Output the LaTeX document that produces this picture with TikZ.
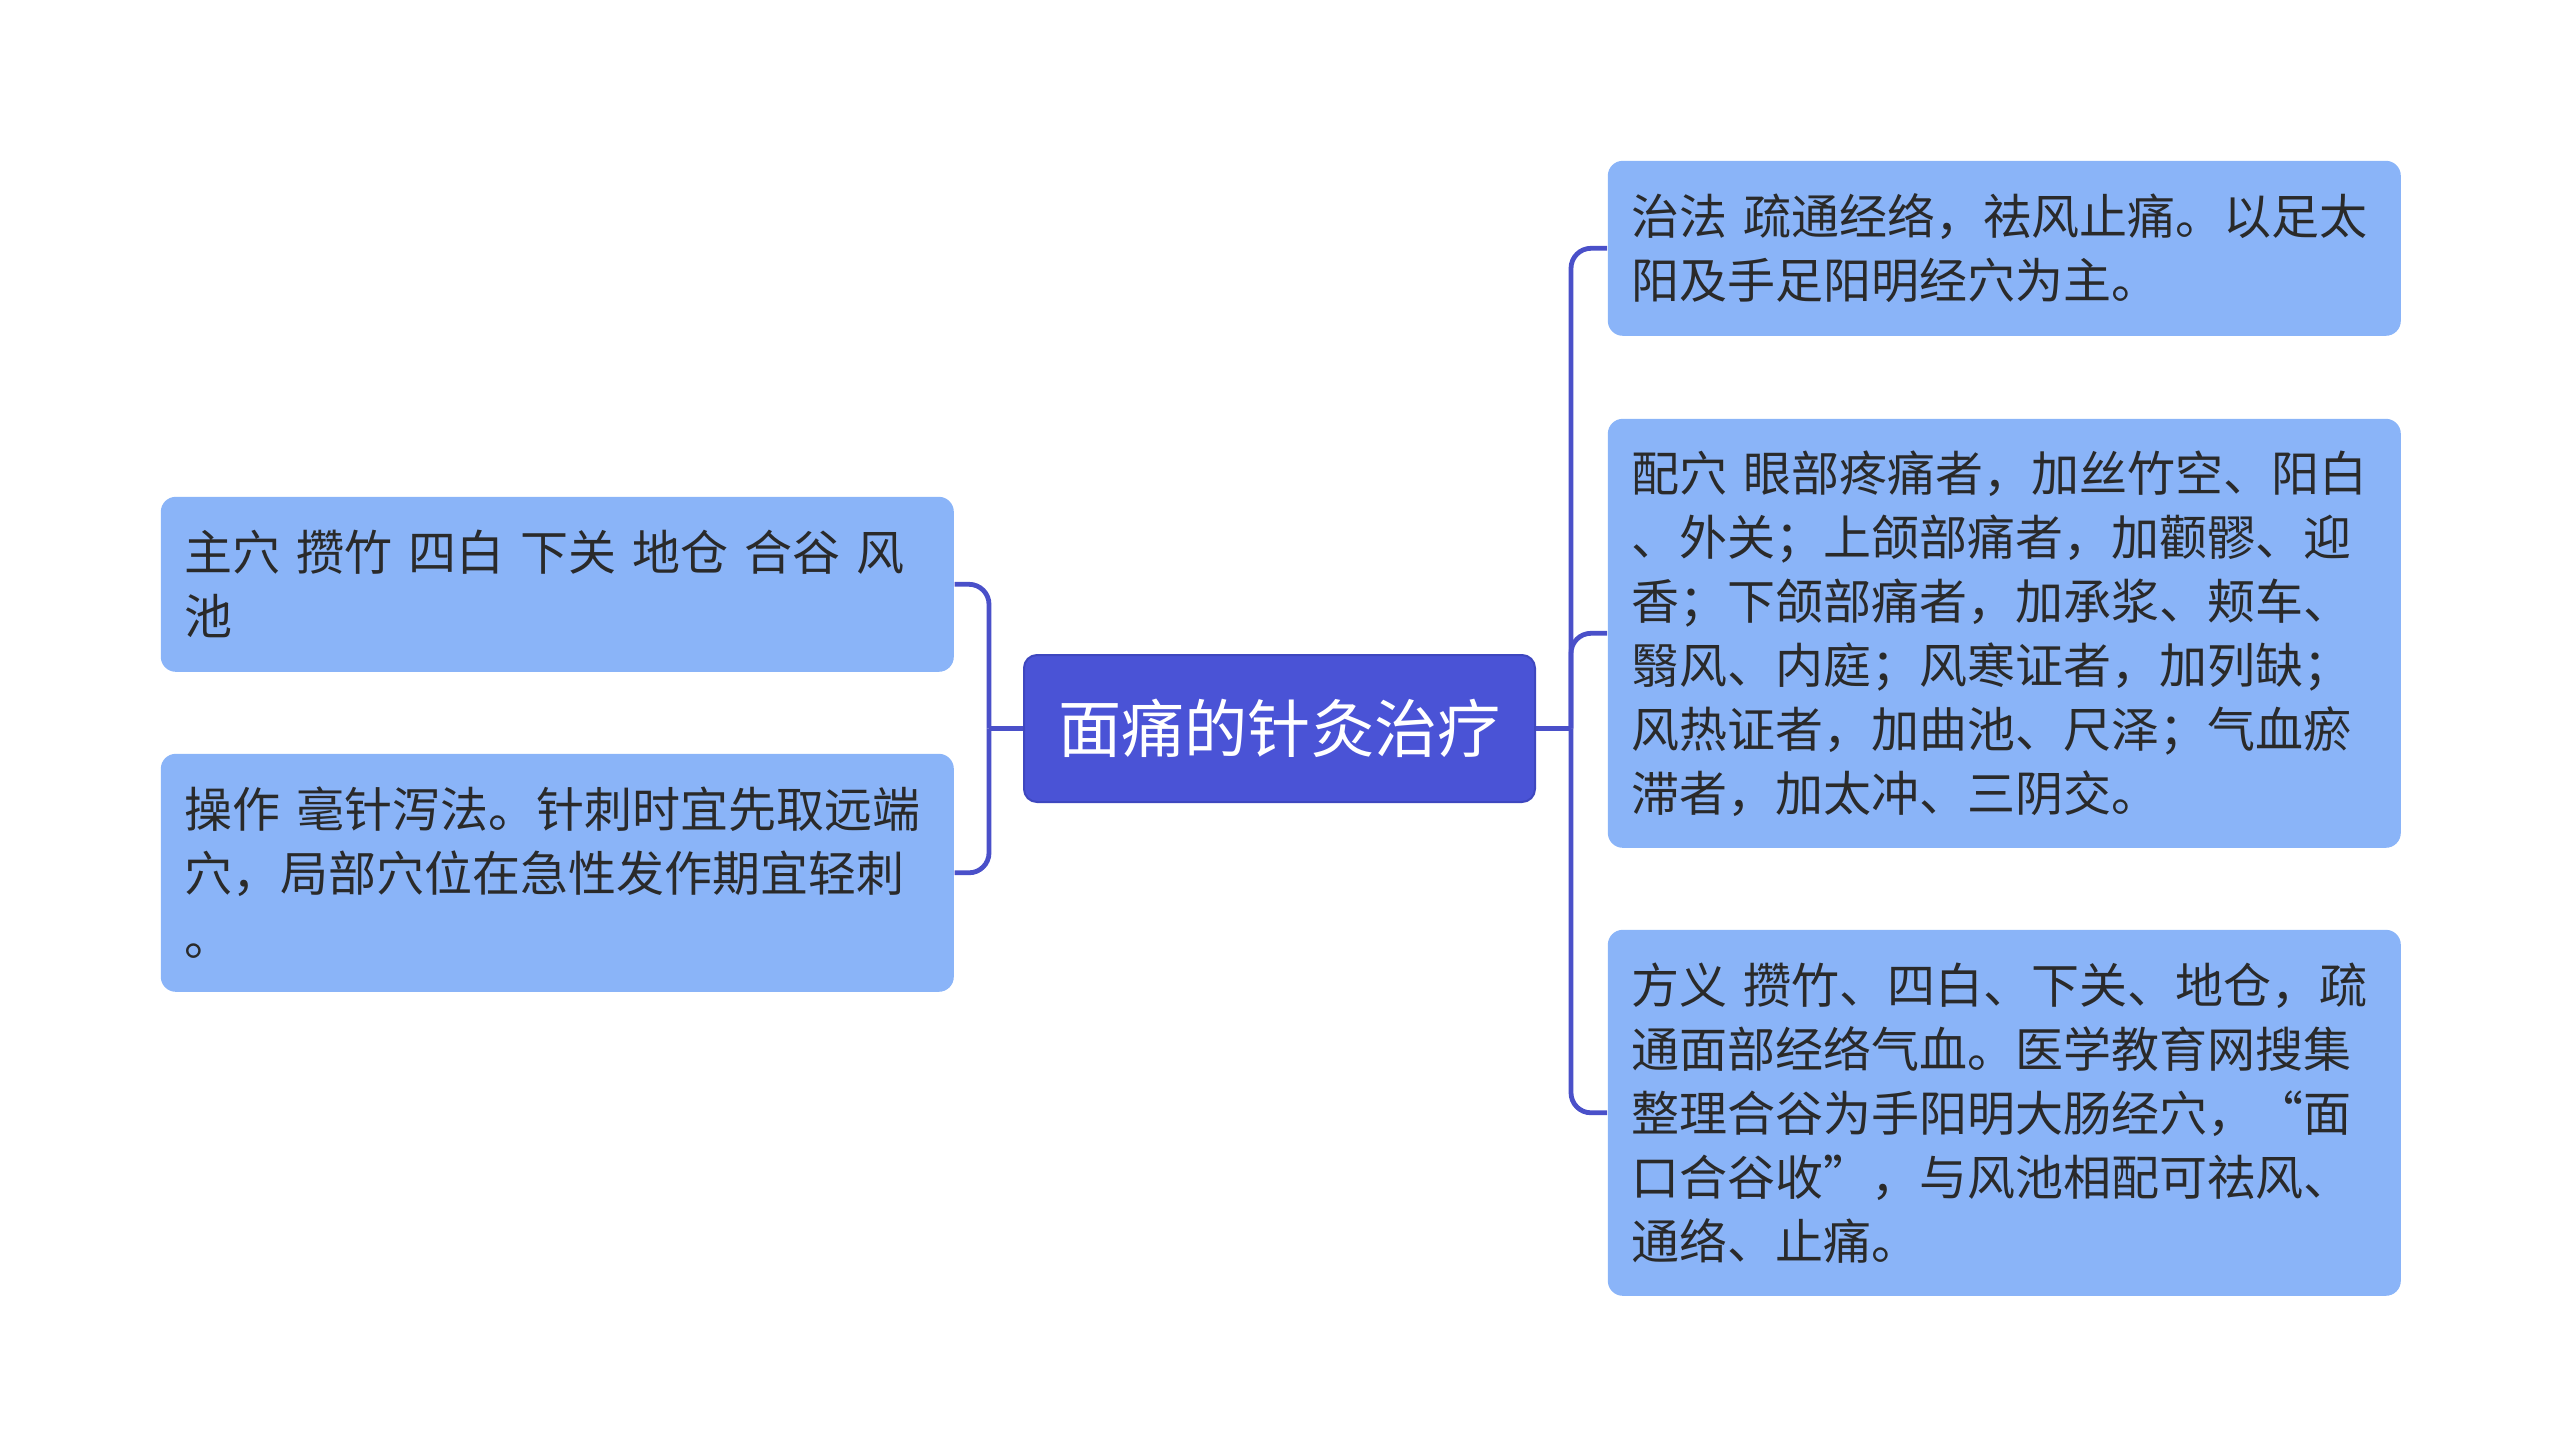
\documentclass[tikz,border=0pt]{standalone}
\usepackage{fontspec}
\setmainfont{Noto Sans CJK SC}
\definecolor{leafblue}{HTML}{8AB4F8}
\definecolor{rootblue}{HTML}{4A53D6}
\definecolor{rootborder}{HTML}{3E47BF}
\definecolor{linec}{HTML}{4A50C9}
\definecolor{textgray}{HTML}{2A2A2A}
\newcommand{\myleaffont}{\fontsize{12}{16}\selectfont\spaceskip=0.17em\relax}
\begin{document}
\begin{tikzpicture}[x=0.25pt,y=-0.25pt,
  leaf/.style={draw=none, fill=leafblue, rounded corners=3.75pt, anchor=north west,
    text width=186.25pt, inner xsep=6pt, inner ysep=0pt, align=left,
    font=\myleaffont, text=textgray},
  rootnode/.style={draw=rootborder, line width=0.5pt, fill=rootblue, rounded corners=3.25pt,
    minimum width=127.75pt, minimum height=36.75pt, inner sep=0pt,
    font=\fontsize{15.8}{20}\selectfont, text=white},
  conn/.style={draw=linec, line width=1.2pt},
  branch/.style={conn, rounded corners=5pt},
]
\useasboundingbox (0,0) rectangle (2560,1456);

\node[rootnode] (c) at (1279.5,728.5) {面痛的针灸治疗};

\node[leaf, minimum height=43.75pt] (l1) at (160,496) {主穴 攒竹 四白 下关 地仓 合谷 风\\池};
\node[leaf, minimum height=59.5pt] (l2) at (160,753) {操作 毫针泻法。针刺时宜先取远端\\穴，局部穴位在急性发作期宜轻刺\\。};

\node[leaf, minimum height=43.75pt] (r1) at (1607,160) {治法 疏通经络，祛风止痛。以足太\\阳及手足阳明经穴为主。};
\node[leaf, minimum height=107.25pt] (r2) at (1607,418) {配穴 眼部疼痛者，加丝竹空、阳白\\、外关；上颌部痛者，加颧髎、迎\\香；下颌部痛者，加承浆、颊车、\\翳风、内庭；风寒证者，加列缺；\\风热证者，加曲池、尺泽；气血瘀\\滞者，加太冲、三阴交。};
\node[leaf, minimum height=91.5pt] (r3) at (1607,929) {方义 攒竹、四白、下关、地仓，疏\\通面部经络气血。医学教育网搜集\\整理合谷为手阳明大肠经穴，“面\\口合谷收”，与风池相配可祛风、\\通络、止痛。};

\coordinate (jr) at (1571,728.5);
\coordinate (jl) at (989,728.5);

\draw[conn] (c.east) -- (jr);
\draw[branch] (jr) |- (r1.west);
\draw[branch] (jr) |- (r2.west);
\draw[branch] (jr) |- (r3.west);

\draw[conn] (c.west) -- (jl);
\draw[branch] (jl) |- (l1.east);
\draw[branch] (jl) |- (l2.east);
\end{tikzpicture}
\end{document}
